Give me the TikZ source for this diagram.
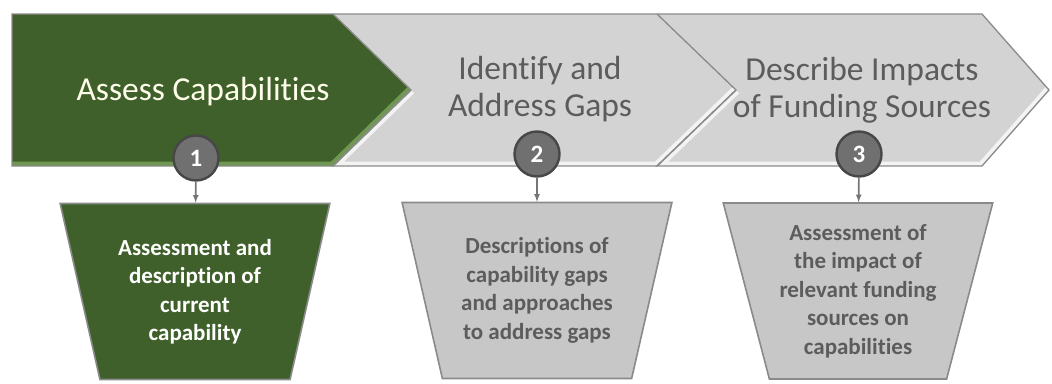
\documentclass[tikz,border=0pt]{standalone}
\usepackage{fontspec}
\setmainfont{Carlito}[Ligatures=NoCommon]
\usetikzlibrary{positioning,arrows,shapes.geometric}

\definecolor{stepgreen}{RGB}{63,96,42}
\definecolor{bevelgreen}{RGB}{112,152,82}
\definecolor{bandgray}{RGB}{211,211,211}
\definecolor{bevelgray}{RGB}{243,243,243}
\definecolor{textgray}{RGB}{92,92,92}
\definecolor{boxgray}{RGB}{199,199,199}
\definecolor{rimgray}{RGB}{138,138,138}
\definecolor{dotgray}{RGB}{112,112,112}

\tikzset{
  chevron/.style={draw=rimgray,line width=1.3pt},
  bevel/.style={line width=9pt},
  title/.style={font=\fontsize{33.5}{37}\selectfont,align=center},
  outbox/.style={trapezium,trapezium angle=73,trapezium stretches=true,
    shape border rotate=180,minimum width=270pt,minimum height=176pt,
    draw=rimgray,line width=1.6pt,inner sep=0pt,align=center,
    font=\bfseries\fontsize{23}{28.5}\selectfont},
  stepdot/.style={circle,minimum size=45pt,inner sep=0pt,fill=dotgray,
    draw=black!72,line width=2.4pt,text=white,
    font=\bfseries\fontsize{25}{25}\selectfont},
  link/.style={->,draw=rimgray!85!black,line width=1.6pt}
}

\begin{document}
\begin{tikzpicture}[>=latex,x=1pt,y=-1pt]
	\useasboundingbox (0,0) rectangle (1052,383);

	% band of steps
	\begin{scope}
		\clip (12,14) -- (333,14) -- (411,90) -- (333,166) -- (12,166) -- cycle;
		\fill[stepgreen] (12,14) rectangle (411,166);
		\draw[bevel,bevelgreen] (12,166) -- (333,166) -- (411,90);
	\end{scope}
	\begin{scope}
		\clip (333,14) -- (657,14) -- (736,90) -- (657,166) -- (333,166) -- (411,90) -- cycle;
		\fill[bandgray] (333,14) rectangle (736,166);
		\draw[bevel,bevelgray] (411,90) -- (333,166) -- (657,166) -- (736,90);
	\end{scope}
	\begin{scope}
		\clip (657,14) -- (982,14) -- (1049,90) -- (982,166) -- (657,166) -- (736,90) -- cycle;
		\fill[bandgray] (657,14) rectangle (1049,166);
		\draw[bevel,bevelgray] (736,90) -- (657,166) -- (982,166) -- (1049,90);
	\end{scope}
	\draw[chevron] (12,14) -- (333,14) -- (411,90) -- (333,166) -- (12,166) -- cycle;
	\draw[chevron] (333,14) -- (657,14) -- (736,90) -- (657,166) -- (333,166) -- (411,90);
	\draw[chevron] (657,14) -- (982,14) -- (1049,90) -- (982,166) -- (657,166) -- (736,90);

	\node[title,text=white!92!yellow] (assess) at (203,92) {Assess Capabilities};
	\node[title,text=textgray] (identify) at (540,89) {Identify and\\Address Gaps};
	\node[title,text=textgray] (describe) at (862,90) {Describe Impacts\\of Funding Sources};

	% outputs
	\node[outbox,fill=stepgreen,text=white] (current) at (195,291.5)
		{Assessment and\\description of\\current\\capability};
	\node[outbox,fill=boxgray,text=textgray] (gaps) at (537,290.5)
		{Descriptions of\\capability gaps\\and approaches\\to address gaps};
	\node[outbox,fill=boxgray,text=textgray] (impact) at (858,291)
		{Assessment of\\the impact of\\relevant funding\\sources on\\capabilities};

	\node[stepdot] (one) at (196,158) {1};
	\node[stepdot] (two) at (537,154) {2};
	\node[stepdot] (three) at (859,154) {3};

	\draw[link] (one) -- (current);
	\draw[link] (two) -- (gaps);
	\draw[link] (three) -- (impact);
\end{tikzpicture}
\end{document}
